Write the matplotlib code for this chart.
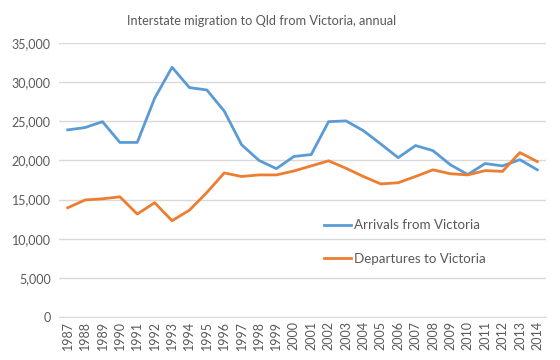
import matplotlib.pyplot as plt

years = list(range(1987, 2015))
arrivals = [23900, 24200, 24950, 22300, 22300, 27950, 31900, 29300, 29000, 26300,
            22000, 20000, 18950, 20500, 20750, 24950, 25050, 23800, 22100, 20350,
            21900, 21250, 19450, 18200, 19600, 19300, 20100, 18800]
departures = [13950, 14950, 15100, 15350, 13150, 14600, 12300, 13650, 15900, 18400,
              17950, 18150, 18150, 18650, 19300, 19950, 19000, 17950, 17000, 17150,
              17950, 18800, 18300, 18150, 18700, 18600, 21000, 19850]

plt.rcParams['font.family'] = ['Lato', 'DejaVu Sans']
text_col = '#595959'

fig = plt.figure(figsize=(5.6, 3.6), dpi=100)
ax = fig.add_axes([59/560, 1 - 317/360, 487/560, 274/360])

ax.plot(years, arrivals, color='#5B9BD5', lw=2.0, label='Arrivals from Victoria')
ax.plot(years, departures, color='#ED7D31', lw=2.0, label='Departures to Victoria')

ax.set_xlim(1986.5, 2014.5)
ax.set_ylim(0, 35000)
ax.set_yticks(range(0, 35001, 5000))
ax.set_yticklabels([f'{v:,}' for v in range(0, 35001, 5000)])
ax.set_xticks(years)
ax.set_xticklabels([str(y) for y in years], rotation=90)
ax.tick_params(axis='both', length=0, colors=text_col, labelsize=9)
ax.tick_params(axis='y', pad=6)
ax.tick_params(axis='x', pad=3)

ax.grid(axis='y', color='#D9D9D9', lw=1)
ax.set_axisbelow(True)
for s in ['top', 'right', 'left']:
    ax.spines[s].set_visible(False)
ax.spines['bottom'].set_color('#D9D9D9')

fig.suptitle('Interstate migration to Qld from Victoria, annual', x=0.467, y=0.958,
             fontsize=9.2, color=text_col)

leg = ax.legend(loc='upper left', bbox_to_anchor=(0.52, 0.40), frameon=False,
                fontsize=9.6, handlelength=2.0, handletextpad=0.25, labelspacing=1.6,
                labelcolor=text_col)

fig.savefig('out.png', dpi=100)
